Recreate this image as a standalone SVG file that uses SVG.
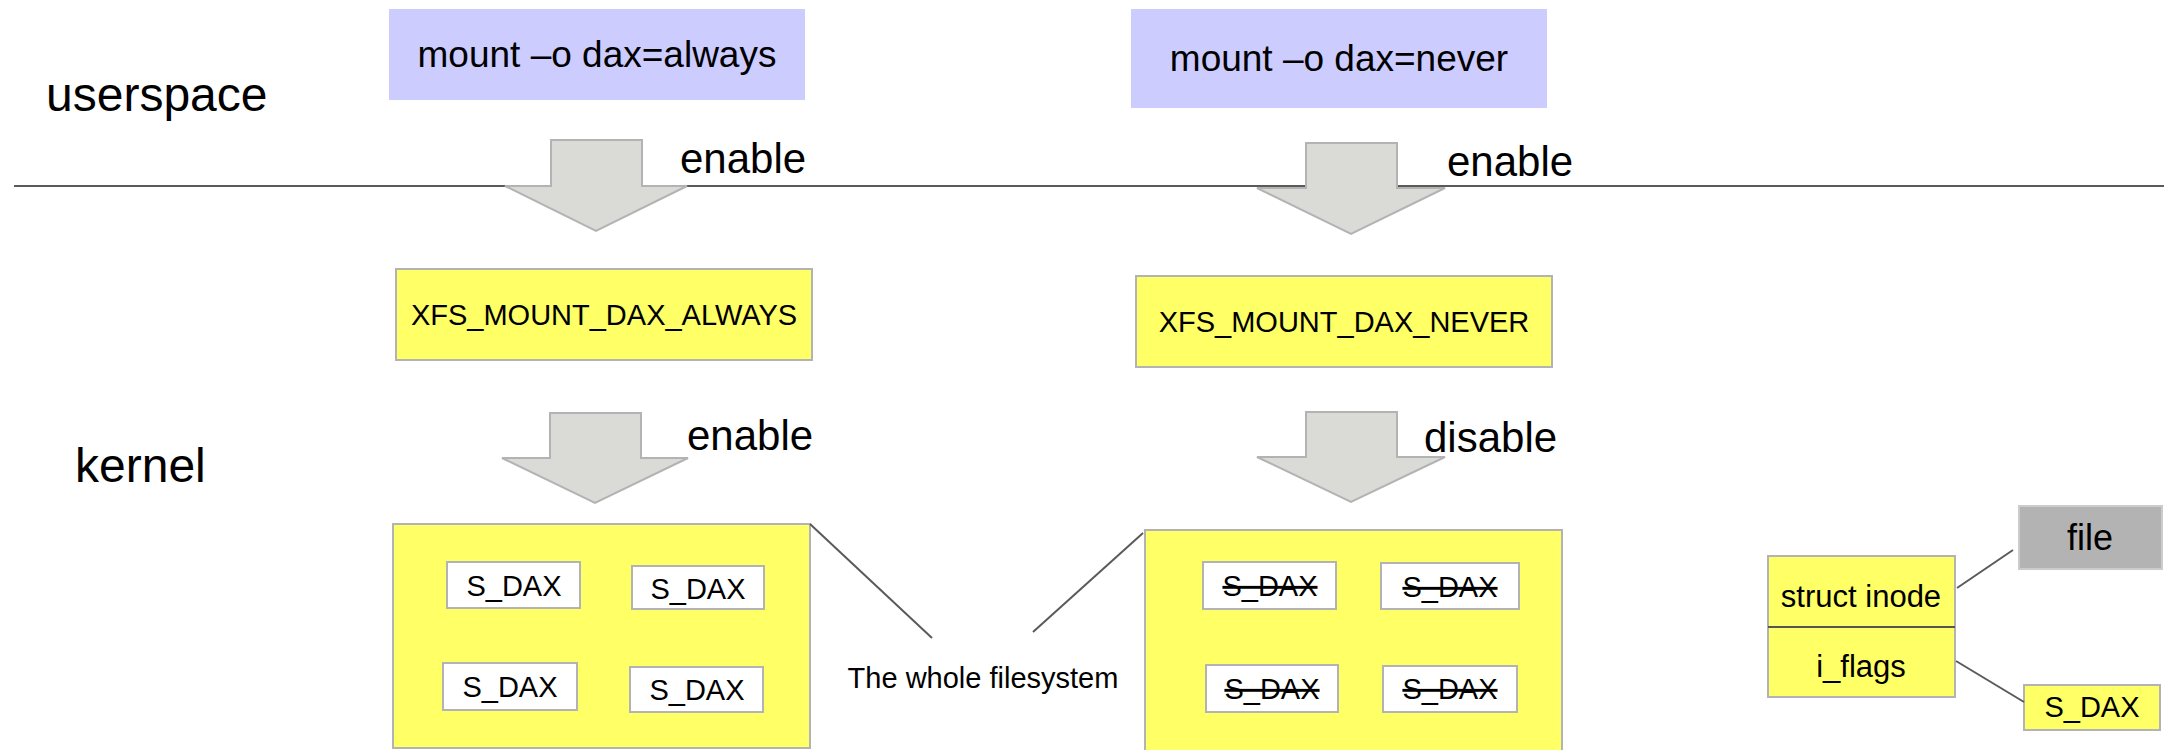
<svg xmlns="http://www.w3.org/2000/svg" width="2164" height="750" viewBox="0 0 2164 750">
  <style>
    text { font-family: "Liberation Sans", Arial, sans-serif; fill: #000; }
    .label { font-size: 48px; }
    .verb { font-size: 42px; }
    .cmd { font-size: 37px; text-anchor: middle; }
    .flag { font-size: 29px; text-anchor: middle; }
    .mid { text-anchor: middle; }
    .cmdbox { fill: #ccccff; stroke: none; }
    .ybox { fill: #ffff66; stroke: #b3b3b3; stroke-width: 2; }
    .wbox { fill: #ffffff; stroke: #b3b3b3; stroke-width: 2; }
    .gbox { fill: #b3b3b3; stroke: #cccccc; stroke-width: 2; }
    .arrow { fill: #dadad6; stroke: #b3b3b3; stroke-width: 2; }
    .link { stroke: #5a5a5a; stroke-width: 2; fill: none; }
    .strike { text-decoration: line-through; }
  </style>

  <!-- userspace / kernel boundary -->
  <g id="boundary">
    <line class="link" x1="14" y1="186" x2="2164" y2="186"/>
    <text class="label" x="46" y="111">userspace</text>
    <text class="label" x="75" y="482">kernel</text>
  </g>

  <!-- mount commands -->
  <g id="mount-always">
    <rect class="cmdbox" x="389" y="9" width="416" height="91"/>
    <text class="cmd" x="597" y="67">mount –o dax=always</text>
  </g>
  <g id="mount-never">
    <rect class="cmdbox" x="1131" y="9" width="416" height="99"/>
    <text class="cmd" x="1339" y="71">mount –o dax=never</text>
  </g>

  <!-- block arrows -->
  <g id="arrows">
    <g id="arrow-always-1">
      <polygon class="arrow" points="551,140 642,140 642,186 687,186 596,231 505,186 551,186"/>
      <text class="verb" x="680" y="173">enable</text>
    </g>
    <g id="arrow-always-2">
      <polygon class="arrow" points="550,413 641,413 641,458 688,458 595,503 502,458 550,458"/>
      <text class="verb" x="687" y="450">enable</text>
    </g>
    <g id="arrow-never-1">
      <polygon class="arrow" points="1306,143 1397,143 1397,188 1445,188 1351,234 1257,188 1306,188"/>
      <text class="verb" x="1447" y="176">enable</text>
    </g>
    <g id="arrow-never-2">
      <polygon class="arrow" points="1306,412 1397,412 1397,457 1445,457 1351,502 1257,457 1306,457"/>
      <text class="verb" x="1424" y="452">disable</text>
    </g>
  </g>

  <!-- mount flags -->
  <g id="flag-always">
    <rect class="ybox" x="396" y="269" width="416" height="91"/>
    <text class="flag" x="604" y="325">XFS_MOUNT_DAX_ALWAYS</text>
  </g>
  <g id="flag-never">
    <rect class="ybox" x="1136" y="276" width="416" height="91"/>
    <text class="flag" x="1344" y="332">XFS_MOUNT_DAX_NEVER</text>
  </g>

  <!-- filesystem with DAX enabled on every inode -->
  <g id="fs-always">
    <rect class="ybox" x="393" y="524" width="417" height="224"/>
    <rect class="wbox" x="447" y="562" width="133" height="46"/>
    <text class="flag" x="514" y="596">S_DAX</text>
    <rect class="wbox" x="632" y="566" width="132" height="43"/>
    <text class="flag" x="698" y="599">S_DAX</text>
    <rect class="wbox" x="443" y="663" width="134" height="47"/>
    <text class="flag" x="510" y="697">S_DAX</text>
    <rect class="wbox" x="630" y="667" width="133" height="45"/>
    <text class="flag" x="697" y="700">S_DAX</text>
  </g>

  <!-- filesystem with DAX disabled on every inode -->
  <g id="fs-never">
    <rect class="ybox" x="1145" y="530" width="417" height="224"/>
    <rect class="wbox" x="1203" y="562" width="133" height="47"/>
    <text class="flag strike" x="1270" y="596">S_DAX</text>
    <rect class="wbox" x="1381" y="563" width="138" height="46"/>
    <text class="flag strike" x="1450" y="597">S_DAX</text>
    <rect class="wbox" x="1206" y="665" width="132" height="47"/>
    <text class="flag strike" x="1272" y="699">S_DAX</text>
    <rect class="wbox" x="1383" y="666" width="134" height="46"/>
    <text class="flag strike" x="1450" y="699">S_DAX</text>
  </g>

  <g id="fs-caption">
    <text class="flag" x="983" y="688">The whole filesystem</text>
  </g>

  <!-- per-file inode -->
  <g id="inode">
    <rect class="ybox" x="1768" y="556" width="187" height="141"/>
    <line x1="1768" y1="627" x2="1955" y2="627" stroke="#555555" stroke-width="2"/>
    <text class="mid" x="1861" y="607" font-size="31">struct inode</text>
    <text class="mid" x="1861" y="677" font-size="31">i_flags</text>
  </g>
  <g id="file">
    <rect class="gbox" x="2019" y="506" width="143" height="63"/>
    <text class="mid" x="2090" y="550" font-size="36">file</text>
  </g>
  <g id="inode-flag">
    <rect class="ybox" x="2024" y="685" width="136" height="45"/>
    <text class="flag" x="2092" y="717">S_DAX</text>
  </g>

  <!-- connectors -->
  <g id="connectors">
    <line class="link" x1="810" y1="524" x2="932" y2="638"/>
    <line class="link" x1="1033" y1="632" x2="1143" y2="533"/>
    <line class="link" x1="1957" y1="588" x2="2013" y2="550"/>
    <line class="link" x1="1956" y1="661" x2="2024" y2="702"/>
  </g>
</svg>
